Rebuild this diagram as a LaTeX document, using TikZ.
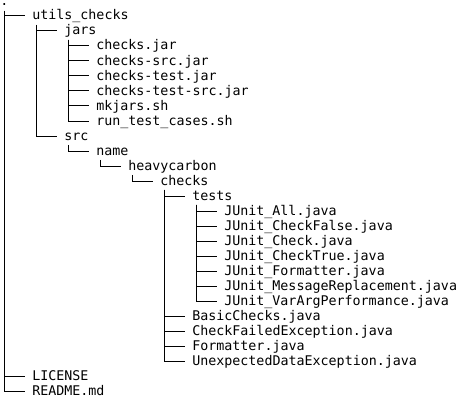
\documentclass[tikz,border=0pt]{standalone}
\usepackage{fontspec}
\setmonofont{DejaVu Sans Mono}
\usepackage{tikz}

\tikzset{
    entry/.style={anchor=west, inner xsep=5.25pt, inner ysep=0pt,
        text height=8.5pt, text depth=2.5pt,
        font=\ttfamily\fontsize{10}{12}\selectfont},
    branch/.style={draw, line width=0.75pt}
}
% vertical from the parent, then across to the child
\newcommand{\stem}[2]{\draw[branch] ([xshift=8.25pt,yshift=-1pt]#1.south west) |- (#2.west);}

\begin{document}
\begin{tikzpicture}[x=0.75pt, y=-0.75pt]
\useasboundingbox (0,0) rectangle (464,403);

\node[entry, anchor=base west, text height=1.5pt] (root) at (-7,6) {.};
\node[entry] (utils) at (25,16) {utils\_checks};
\node[entry] (jars) at (57,31) {jars};
\foreach \f [count=\i] in {checks.jar, checks-src.jar, checks-test.jar,
        checks-test-src.jar, mkjars.sh, run\_test\_cases.sh}
    \node[entry] (jar\i) at (89,{31+15*\i}) {\f};
\node[entry] (src) at (57,136) {src};
\node[entry] (name) at (89,151) {name};
\node[entry] (heavy) at (121,166) {heavycarbon};
\node[entry] (checks) at (153,181) {checks};
\node[entry] (tests) at (185,196) {tests};
\foreach \f [count=\i] in {All, CheckFalse, Check, CheckTrue, Formatter,
        MessageReplacement, VarArgPerformance}
    \node[entry] (junit\i) at (217,{196+15*\i}) {JUnit\_\f.java};
\foreach \f [count=\i] in {BasicChecks, CheckFailedException, Formatter,
        UnexpectedDataException}
    \node[entry] (file\i) at (185,{301+15*\i}) {\f.java};
\node[entry] (license) at (25,376) {LICENSE};
\node[entry] (readme) at (25,391) {README.md};

% connectors
\stem{root}{utils}
\stem{root}{license}
\stem{root}{readme}
\stem{utils}{jars}
\stem{utils}{src}
\foreach \i in {1,...,6} {\stem{jars}{jar\i}}
\stem{src}{name}
\stem{name}{heavy}
\stem{heavy}{checks}
\stem{checks}{tests}
\foreach \i in {1,...,4} {\stem{checks}{file\i}}
\foreach \i in {1,...,7} {\stem{tests}{junit\i}}

\end{tikzpicture}
\end{document}
